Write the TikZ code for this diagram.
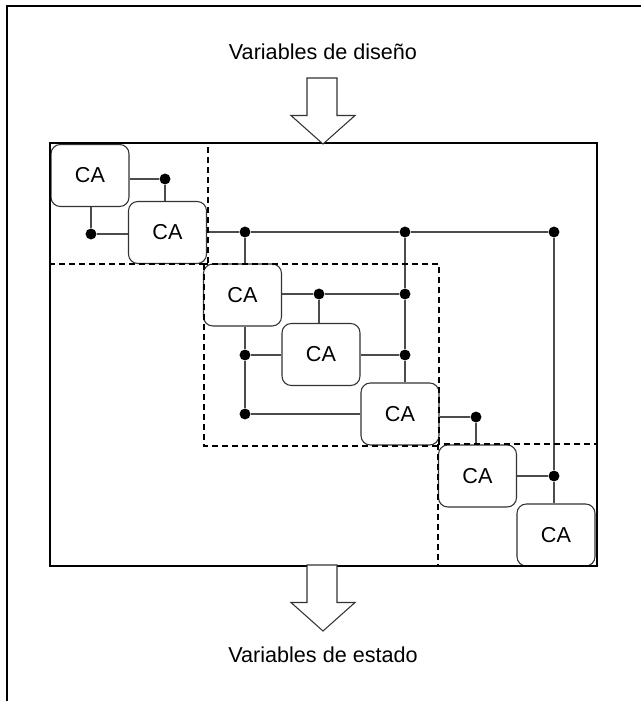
\documentclass[tikz,border=0pt]{standalone}
\usepackage{fontspec}
\setmainfont{Liberation Sans}
\usetikzlibrary{positioning}

\begin{document}
\begin{tikzpicture}[x=0.75pt,y=-0.75pt,font=\fontsize{16.2}{18}\selectfont]
    \tikzstyle{ca}=[draw=black!80,line width=0.8pt,rounded corners=7pt,minimum width=58.5pt,minimum height=46.5pt,inner sep=0pt]
    \tikzstyle{dot}=[circle,fill=black,minimum size=8.2pt,inner sep=0pt]
    \tikzstyle{wire}=[draw=black!70,line width=0.8pt]
    \tikzstyle{block}=[line width=1.5pt,dash pattern=on 4.5pt off 3pt]
    \tikzstyle{bigarrow}=[draw=black!80,line width=0.8pt,fill=white]

    \useasboundingbox (0,0) rectangle (641,701);

    % outer frame
    \draw[line width=2pt] (7,701) -- (7,6) -- (641,6);

    % Draw the cellular automata
    \foreach \name/\x/\y in {1/90/175.5, 2/167.5/232.5, 3/242.5/295, 4/321/354.5, 5/400/414, 6/477.5/476, 7/556/535}
        \node[ca] (CA-\name) at (\x,\y) {CA};

    % Draw the junctions
    \foreach \name/\x/\y in {1/165/179, 2/91/234, 3/245/232, 4/405/232, 5/554/232, 6/319/294,
                             7/405/294, 8/245/355, 9/405/355, 10/245/414, 11/476/417, 12/554/476}
        \node[dot] (D-\name) at (\x,\y) {};

    % Connect the first block
    \draw[wire] (CA-1.east |- D-1) -- (D-1) -- (D-1 |- CA-2.north);
    \draw[wire] (D-2 |- CA-1.south) -- (D-2) -- (D-2 -| CA-2.west);

    % Main bus and its drops
    \draw[wire] (CA-2.east |- D-3) -- (D-3) -- (D-4) -- (D-5);
    \draw[wire] (D-3) -- (D-3 |- CA-3.north);
    \draw[wire] (D-4) -- (D-7) -- (D-9) -- (D-9 |- CA-5.north);
    \draw[wire] (D-5) -- (D-12) -- (D-12 |- CA-7.north);

    % Connect the second block
    \draw[wire] (CA-3.east |- D-6) -- (D-6) -- (D-7);
    \draw[wire] (D-6) -- (D-6 |- CA-4.north);
    \draw[wire] (D-8 |- CA-3.south) -- (D-8) -- (D-10);
    \draw[wire] (D-8) -- (D-8 -| CA-4.west);
    \draw[wire] (D-10) -- (D-10 -| CA-5.west);
    \draw[wire] (CA-4.east |- D-9) -- (D-9);

    % Connect the third block
    \draw[wire] (CA-5.east |- D-11) -- (D-11) -- (D-11 |- CA-6.north);
    \draw[wire] (CA-6.east |- D-12) -- (D-12);

    % Dashed blocks and system box
    \foreach \xa/\ya/\xb/\yb in {50/143/208/264, 204/264/439/446, 438/444/597/566}
        \draw[block] (\xa,\ya) rectangle (\xb,\yb);
    \draw[line width=1.5pt] (50,143) rectangle (597,566);

    % Input and output arrows
    \foreach \top in {78,565}
        \draw[bigarrow] (307,\top) -- (337,\top) -- (337,\top+37.5) -- (355,\top+37.5)
            -- (323,\top+66) -- (291,\top+37.5) -- (307,\top+37.5) -- cycle;

    % Annotate
    \node[anchor=base] (design) at (323,59) {Variables de diseño};
    \node[anchor=base] (state) at (323,662) {Variables de estado};
\end{tikzpicture}
\end{document}
